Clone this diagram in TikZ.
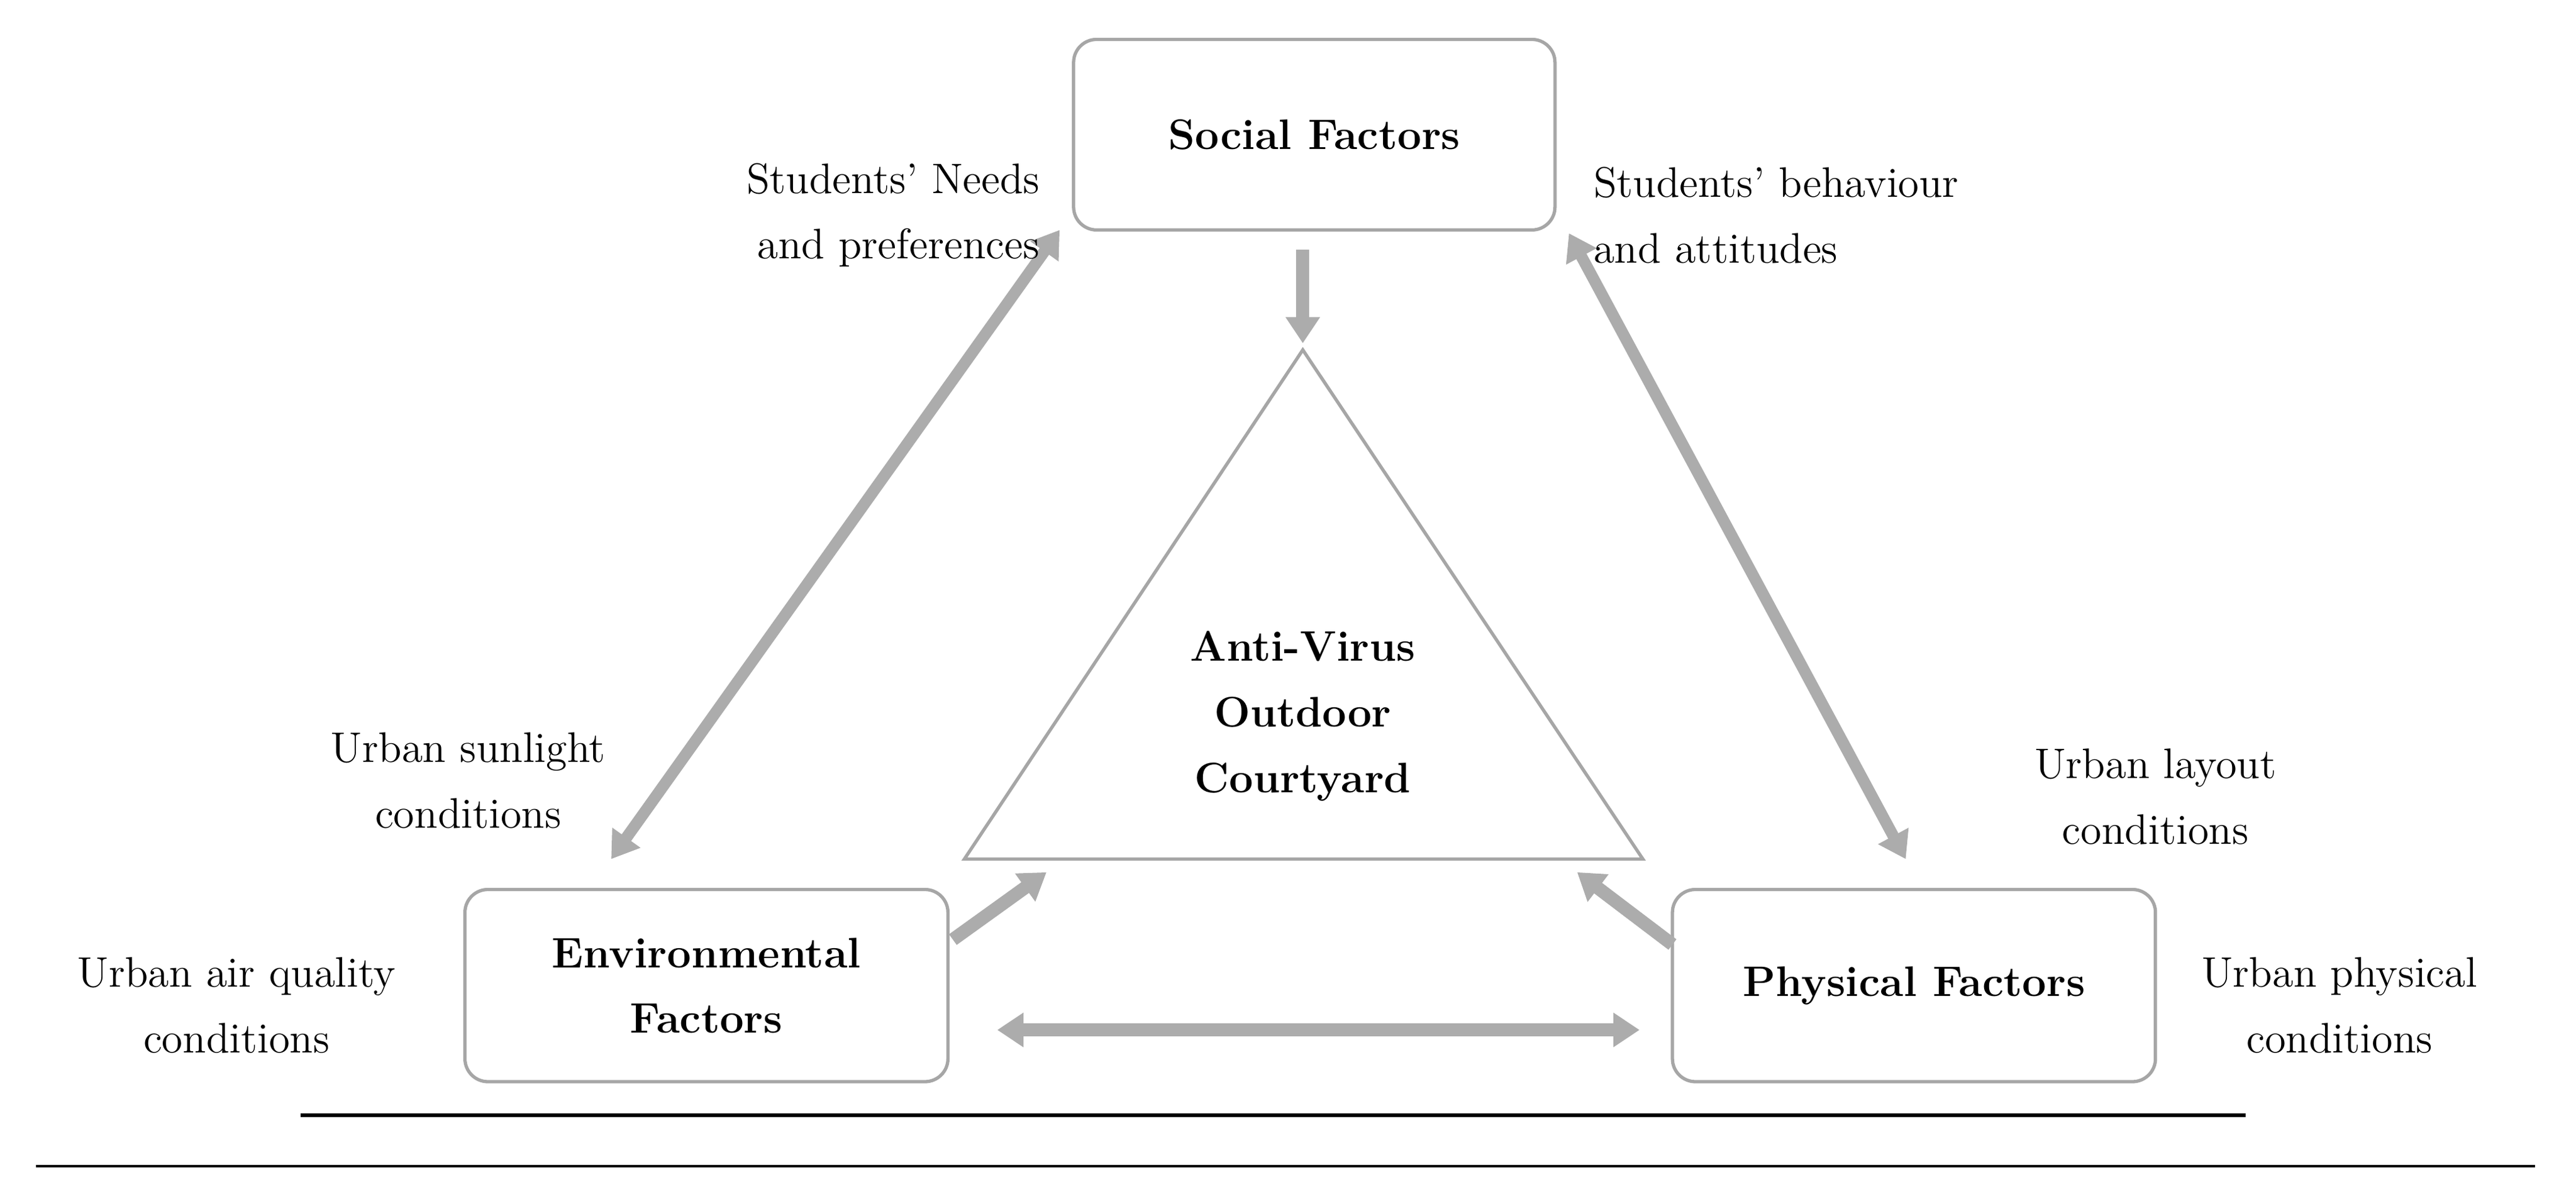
\documentclass[tikz,border=0pt]{standalone}
\usetikzlibrary{arrows.meta}
\begin{document}
\begin{tikzpicture}[x=0.5pt,y=-0.5pt,
  box/.style={draw=gray!70,line width=1pt,rounded corners=7pt,fill=white},
  lbl/.style={align=center,font=\fontsize{13}{20}\selectfont},
  bx/.style={align=center,font=\fontsize{13}{20}\selectfont\bfseries},
  arr/.style={draw=gray!65,line width=4pt,-{Triangle[length=8pt,width=10pt]}},
  darr/.style={draw=gray!65,line width=4pt,{Triangle[length=8pt,width=10pt]}-{Triangle[length=8pt,width=10pt]}}]
\useasboundingbox (0,0) rectangle (1568,732.6);
\node[box,minimum width=146.5pt,minimum height=58pt] (soc) at (800,82) {};
\node[bx] at (soc) {Social Factors};
\node[box,minimum width=147pt,minimum height=58.5pt] (env) at (430,600) {};
\node[bx] at (env) {Environmental\\Factors};
\node[box,minimum width=147pt,minimum height=58.5pt] (phy) at (1165,600) {};
\node[bx] at (phy) {Physical Factors};
\coordinate (ta) at (793,213);
\coordinate (tl) at (587,523);
\coordinate (tr) at (1000,523);
\draw[gray!70,line width=1pt] (ta) -- (tl) -- (tr) -- cycle;
\node[bx] (av) at (793,436) {Anti-Virus\\Outdoor\\Courtyard};
\coordinate (d1) at (793,152); \coordinate (d2) at (793,209);
\draw[arr] (d1) -- (d2);
\coordinate (l1) at (372,523); \coordinate (l2) at (645,140);
\draw[darr,line width=3.5pt] (l1) -- (l2);
\coordinate (r1) at (955,142); \coordinate (r2) at (1160,523);
\draw[darr,line width=3.5pt] (r1) -- (r2);
\coordinate (e1) at (580,572); \coordinate (e2) at (637,531);
\draw[arr] (e1) -- (e2);
\coordinate (p1) at (1018,575); \coordinate (p2) at (960,531);
\draw[arr] (p1) -- (p2);
\coordinate (h1) at (607,627); \coordinate (h2) at (998,627);
\draw[darr] (h1) -- (h2);
\coordinate (k1) at (183,679); \coordinate (k2) at (1367,679);
\draw[black,line width=1.2pt] (k1) -- (k2);
\coordinate (m1) at (22,710); \coordinate (m2) at (1543,710);
\draw[black,line width=0.8pt] (m1) -- (m2);
\node[lbl,align=right,anchor=east] (n1) at (640,131) {Students' Needs\\and preferences};
\node[lbl,align=left,anchor=west] (n2) at (963,131) {Students' behaviour\\and attitudes};
\node[lbl] (n3) at (285,475) {Urban sunlight\\conditions};
\node[lbl] (n4) at (144,612) {Urban air quality\\conditions};
\node[lbl] (n5) at (1312,485) {Urban layout\\conditions};
\node[lbl] (n6) at (1424,612) {Urban physical\\conditions};
\end{tikzpicture}
\end{document}
